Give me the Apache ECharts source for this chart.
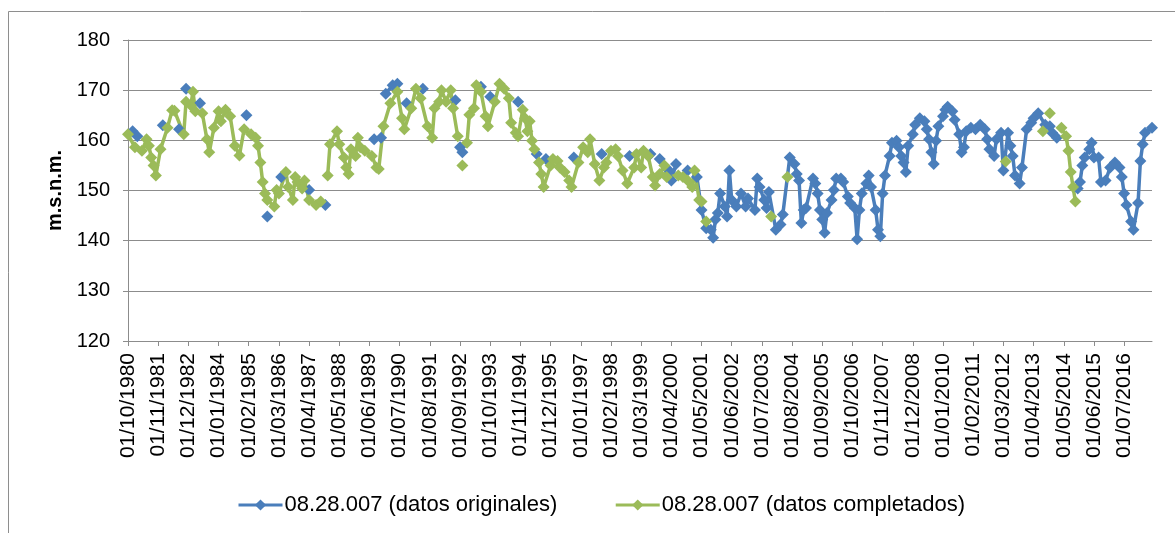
<!DOCTYPE html>
<html>
<head>
<meta charset="utf-8">
<script src="https://cdn.jsdelivr.net/npm/echarts@6/dist/echarts.min.js"></script>
<style>
html,body{margin:0;padding:0;background:#ffffff;}
#chart{width:1175px;height:533px;}
</style>
</head>
<body>
<div id="chart"></div>
<script>
// Tick labels of the time axis (one every 13 months)
const tickLabels = ['01/10/1980','01/11/1981','01/12/1982','01/01/1984','01/02/1985','01/03/1986',
  '01/04/1987','01/05/1988','01/06/1989','01/07/1990','01/08/1991','01/09/1992','01/10/1993',
  '01/11/1994','01/12/1995','01/01/1997','01/02/1998','01/03/1999','01/04/2000','01/05/2001',
  '01/06/2002','01/07/2003','01/08/2004','01/09/2005','01/10/2006','01/11/2007','01/12/2008',
  '01/01/2010','01/02/2011','01/03/2012','01/04/2013','01/05/2014','01/06/2015','01/07/2016'];

const firstMonth = '1980-10';
const lastMonth = '2017-07';
const yTicks = [120, 130, 140, 150, 160, 170, 180];

// 08.28.007 (datos originales) : [month, m.s.n.m.]  (null = gap)
const originales = [
  ['1980-12',161.8],['1981-02',160.8],['1981-03',null],
  ['1982-01',163.0],['1982-02',null],
  ['1982-08',162.2],['1982-09',null],
  ['1982-11',170.3],['1982-12',null],
  ['1983-05',167.4],['1983-06',null],
  ['1985-01',165.0],['1985-02',null],
  ['1985-10',144.8],['1985-11',null],
  ['1986-04',152.7],['1986-05',null],
  ['1987-04',150.1],['1987-05',null],
  ['1987-11',147.1],['1987-12',null],
  ['1989-08',160.2],['1989-11',160.5],['1989-12',null],
  ['1990-01',169.3],['1990-04',171.0],['1990-06',171.3],['1990-07',null],
  ['1990-10',167.4],['1990-11',null],
  ['1991-05',170.3],['1991-06',null],
  ['1992-07',168.0],['1992-08',null],
  ['1992-09',158.6],['1992-10',157.6],['1992-11',null],
  ['1993-06',170.7],['1993-07',null],
  ['1993-10',168.7],['1993-11',null],
  ['1994-10',167.7],['1994-11',null],
  ['1995-06',157.3],['1995-07',null],
  ['1995-10',156.3],['1995-11',null],
  ['1996-10',156.6],['1996-11',null],
  ['1997-10',157.3],['1997-11',null],
  ['1998-10',156.9],['1998-11',null],
  ['1999-07',157.3],['1999-08',null],
  ['1999-11',156.3],['1999-12',null],
  ['2000-03',154.0],['2000-04',152.0],['2000-06',155.3],['2000-07',null],
  ['2000-11',154.0],['2000-12',null],
  ['2001-03',152.7],['2001-05',146.1],['2001-07',142.5],['2001-09',142.2],['2001-10',140.6],
  ['2001-11',144.2],['2001-12',145.5],['2002-01',149.4],['2002-03',146.8],['2002-04',144.8],
  ['2002-05',154.0],['2002-06',148.1],['2002-08',146.8],['2002-10',149.4],['2002-12',146.8],
  ['2003-01',148.4],['2003-04',146.1],['2003-05',152.4],['2003-06',150.7],['2003-08',148.1],
  ['2003-09',146.5],['2003-10',149.7],['2004-01',142.2],['2004-03',143.2],['2004-04',145.2],
  ['2004-07',156.6],['2004-09',155.3],['2004-10',153.3],['2004-11',152.0],['2004-12',143.5],
  ['2005-01',146.1],['2005-02',146.5],['2005-05',152.4],['2005-06',151.4],['2005-07',149.4],
  ['2005-08',146.1],['2005-09',144.2],['2005-10',141.6],['2005-11',145.5],['2006-01',148.1],
  ['2006-02',150.1],['2006-03',152.4],['2006-05',152.4],['2006-06',151.7],['2006-08',148.8],
  ['2006-09',147.5],['2006-11',146.5],['2006-12',140.3],['2007-01',146.1],['2007-02',149.4],
  ['2007-04',151.4],['2007-05',153.0],['2007-06',150.7],['2007-08',146.1],['2007-09',142.2],
  ['2007-10',140.9],['2007-11',149.4],['2007-12',153.0],['2008-02',156.9],['2008-03',159.5],
  ['2008-05',159.9],['2008-06',158.6],['2008-07',156.9],['2008-08',155.6],['2008-09',153.7],
  ['2008-10',158.9],['2008-12',161.2],['2009-01',163.1],['2009-03',164.4],['2009-05',163.8],
  ['2009-06',162.2],['2009-07',160.2],['2009-08',157.6],['2009-09',155.3],['2009-10',159.9],
  ['2009-11',162.8],['2010-01',164.8],['2010-02',166.1],['2010-03',166.7],['2010-05',165.8],
  ['2010-06',164.1],['2010-08',161.2],['2010-09',157.6],['2010-10',158.6],['2010-11',161.8],
  ['2011-01',162.5],['2011-03',162.2],['2011-05',163.1],['2011-07',162.2],['2011-08',160.2],
  ['2011-09',158.2],['2011-11',156.9],['2011-12',160.2],['2012-02',161.5],['2012-03',154.0],
  ['2012-05',161.5],['2012-06',158.9],['2012-07',156.9],['2012-08',153.0],['2012-10',151.4],
  ['2012-11',154.6],['2013-01',162.2],['2013-03',163.5],['2013-04',164.4],['2013-06',165.4],
  ['2013-09',163.1],['2013-11',162.8],['2013-12',161.5],['2014-02',160.5],['2014-03',null],
  ['2014-11',150.4],['2014-12',151.7],['2015-01',155.0],['2015-02',156.6],['2015-04',158.2],
  ['2015-05',159.5],['2015-06',156.6],['2015-08',156.6],['2015-09',151.7],['2015-11',152.0],
  ['2016-01',154.6],['2016-03',155.6],['2016-05',154.6],['2016-06',152.7],['2016-07',149.4],
  ['2016-08',147.1],['2016-10',143.8],['2016-11',142.2],['2017-01',147.5],['2017-02',155.9],
  ['2017-03',159.2],['2017-04',161.5],['2017-07',162.5]
];

// 08.28.007 (datos completados) : [month, m.s.n.m.]  (null = gap)
const completados = [
  ['1980-10',161.2],['1981-01',158.6],['1981-04',157.9],['1981-06',160.2],['1981-07',158.9],
  ['1981-08',156.6],['1981-09',155.0],['1981-10',153.0],['1981-12',158.2],['1982-03',162.5],
  ['1982-05',166.0],['1982-06',165.9],['1982-10',161.2],['1982-11',167.7],['1983-01',167.0],
  ['1983-02',169.7],['1983-03',165.8],['1983-06',165.4],['1983-08',160.2],['1983-09',157.6],
  ['1983-11',162.5],['1984-01',165.8],['1984-02',163.8],['1984-04',166.1],['1984-06',164.8],
  ['1984-08',158.9],['1984-10',157.0],['1984-12',162.2],['1985-03',161.2],['1985-05',160.5],
  ['1985-06',158.9],['1985-07',155.6],['1985-08',151.7],['1985-09',149.4],['1985-10',148.1],
  ['1986-01',146.8],['1986-02',150.1],['1986-03',149.4],['1986-06',153.7],['1986-07',150.7],
  ['1986-09',148.1],['1986-10',152.7],['1986-11',151.7],['1987-01',150.4],['1987-02',152.0],
  ['1987-04',148.1],['1987-07',147.1],['1987-09',147.8],['1987-10',null],
  ['1987-12',153.0],['1988-01',159.2],['1988-04',161.8],['1988-05',159.2],['1988-07',156.6],
  ['1988-08',154.6],['1988-09',153.3],['1988-10',158.2],['1988-12',156.9],['1989-01',160.5],
  ['1989-02',158.6],['1989-04',157.9],['1989-07',156.9],['1989-09',154.6],['1989-10',154.3],
  ['1989-12',162.8],['1990-03',167.4],['1990-06',169.7],['1990-08',164.4],['1990-09',162.2],
  ['1990-12',166.4],['1991-02',170.3],['1991-04',168.4],['1991-07',162.8],['1991-09',160.5],
  ['1991-10',166.4],['1991-12',167.7],['1992-01',170.0],['1992-03',167.7],['1992-05',170.0],
  ['1992-06',166.4],['1992-08',160.8],['1992-09',null],['1992-10',155.0],['1992-11',null],
  ['1992-12',159.5],['1993-01',165.1],['1993-03',166.4],['1993-04',171.0],['1993-06',169.7],
  ['1993-08',164.8],['1993-09',162.8],['1993-12',167.7],['1994-02',171.3],['1994-04',170.3],
  ['1994-06',168.4],['1994-07',163.5],['1994-09',161.5],['1994-10',160.8],['1994-12',166.1],
  ['1995-01',164.4],['1995-02',161.8],['1995-03',163.8],['1995-04',159.9],['1995-05',158.2],
  ['1995-07',155.6],['1995-08',153.3],['1995-09',150.7],['1995-12',155.0],['1996-01',156.3],
  ['1996-03',155.9],['1996-04',154.6],['1996-06',153.7],['1996-08',152.0],['1996-09',150.7],
  ['1996-12',155.6],['1997-02',158.6],['1997-04',157.6],['1997-05',160.2],['1997-07',155.3],
  ['1997-09',152.0],['1997-11',154.6],['1997-12',155.6],['1998-02',157.9],['1998-04',158.2],
  ['1998-05',156.9],['1998-07',154.0],['1998-09',151.4],['1998-12',154.6],['1999-01',157.3],
  ['1999-03',154.6],['1999-04',157.9],['1999-06',156.9],['1999-08',152.7],['1999-09',151.0],
  ['1999-11',153.3],['2000-01',155.0],['2000-02',152.7],['2000-07',153.0],['2000-09',152.7],
  ['2000-11',152.0],['2001-01',150.7],['2001-02',154.0],['2001-04',148.1],['2001-05',147.8],
  ['2001-06',null],['2001-07',143.8],['2001-08',null],
  ['2003-11',144.8],['2003-12',null],
  ['2004-06',152.7],['2004-07',null],
  ['2012-04',155.8],['2012-05',null],
  ['2013-08',161.8],['2013-09',null],
  ['2013-11',165.4],['2013-12',null],
  ['2014-04',162.5],['2014-06',160.8],['2014-07',157.9],['2014-08',153.7],['2014-09',150.7],
  ['2014-10',147.8]
];

function monthIndex(s) {
  const p = s.split('-');
  return (Number(p[0]) - 1980) * 12 + (Number(p[1]) - 10);
}
const xMin = monthIndex(firstMonth);
const xMax = monthIndex(lastMonth);
const labelStep = 13;
const tickValues = tickLabels.map((_, k) => xMin + k * labelStep);

const FONT = '"Liberation Sans", Arial, sans-serif';
const BLUE = '#4A7EBB';
const GREEN = '#9BBB59';
const GRID = '#8C8C8C';

const chart = echarts.init(document.getElementById('chart'), null, {renderer: 'canvas'});
chart.setOption({
  animation: false,
  backgroundColor: '#ffffff',
  textStyle: {fontFamily: FONT},
  graphic: [{
    type: 'rect', silent: true, z: -10,
    shape: {x: 8.5, y: 11.5, width: 1300, height: 700},
    style: {fill: 'none', stroke: '#8E8E8E', lineWidth: 1}
  }],
  grid: {left: 128, right: 23, top: 40, bottom: 192, containLabel: false},
  legend: {
    left: 237, top: 494, padding: 0,
    itemWidth: 44, itemHeight: 14, itemGap: 57,
    lineStyle: {width: 3},
    textStyle: {fontFamily: FONT, fontSize: 22, color: '#000000', padding: [0, 0, 0, -3]},
    data: ['08.28.007 (datos originales)', '08.28.007 (datos completados)']
  },
  xAxis: {
    type: 'value',
    min: xMin, max: xMax, interval: labelStep,
    axisLine: {show: true, lineStyle: {color: GRID, width: 1}},
    axisTick: {show: true, length: 5, customValues: tickValues, lineStyle: {color: GRID}},
    splitLine: {show: false},
    axisLabel: {
      customValues: tickValues,
      rotate: 90, margin: 12,
      fontFamily: FONT, fontSize: 21, color: '#000000',
      formatter: function (v) {
        const k = Math.round((v - xMin) / labelStep);
        return ((v - xMin) % labelStep === 0 && tickLabels[k]) ? tickLabels[k] : '';
      }
    }
  },
  yAxis: {
    type: 'value',
    min: yTicks[0], max: yTicks[yTicks.length - 1], interval: 10,
    name: 'm.s.n.m.', nameLocation: 'middle', nameRotate: 90, nameGap: 57,
    nameTextStyle: {fontFamily: FONT, fontSize: 20, fontWeight: 'bold', color: '#000000'},
    axisLine: {show: true, lineStyle: {color: GRID, width: 1}},
    axisTick: {show: true, length: 5, lineStyle: {color: GRID}},
    splitLine: {show: true, lineStyle: {color: GRID, width: 1}},
    axisLabel: {margin: 18, fontFamily: FONT, fontSize: 20, color: '#000000'}
  },
  series: [
    {
      name: '08.28.007 (datos originales)',
      type: 'line',
      data: originales.map(d => [monthIndex(d[0]), d[1]]),
      symbol: 'diamond', symbolSize: 12, showAllSymbol: true, connectNulls: false,
      lineStyle: {color: BLUE, width: 3.5},
      itemStyle: {color: BLUE},
      emphasis: {disabled: true}
    },
    {
      name: '08.28.007 (datos completados)',
      type: 'line',
      data: completados.map(d => [monthIndex(d[0]), d[1]]),
      symbol: 'diamond', symbolSize: 12, showAllSymbol: true, connectNulls: false,
      lineStyle: {color: GREEN, width: 3.5},
      itemStyle: {color: GREEN},
      emphasis: {disabled: true}
    }
  ]
});
</script>
</body>
</html>
